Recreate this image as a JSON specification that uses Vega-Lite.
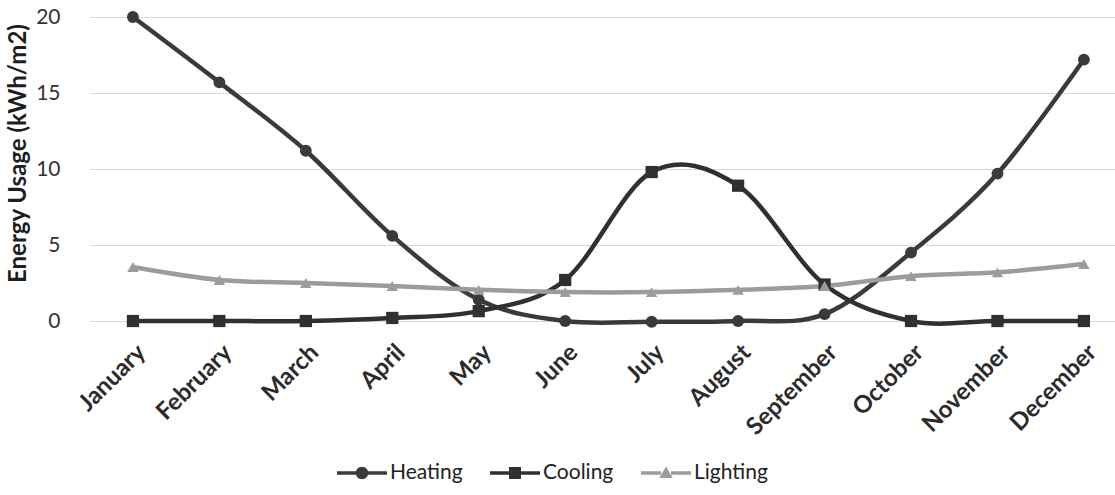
{
  "$schema": "https://vega.github.io/schema/vega-lite/v6.json",
  "width": 1025,
  "height": 304,
  "autosize": "none",
  "padding": {"left": 90, "top": 17, "right": 0, "bottom": 174},
  "background": "white",
  "config": {
    "font": "Lato",
    "view": {"stroke": null}
  },
  "data": {
    "values": [
      {"month": "January", "series": "Heating", "value": 20.0},
      {"month": "February", "series": "Heating", "value": 15.7},
      {"month": "March", "series": "Heating", "value": 11.2},
      {"month": "April", "series": "Heating", "value": 5.6},
      {"month": "May", "series": "Heating", "value": 1.4},
      {"month": "June", "series": "Heating", "value": 0.0},
      {"month": "July", "series": "Heating", "value": -0.05},
      {"month": "August", "series": "Heating", "value": 0.0},
      {"month": "September", "series": "Heating", "value": 0.45},
      {"month": "October", "series": "Heating", "value": 4.5},
      {"month": "November", "series": "Heating", "value": 9.7},
      {"month": "December", "series": "Heating", "value": 17.2},
      {"month": "January", "series": "Cooling", "value": 0.0},
      {"month": "February", "series": "Cooling", "value": 0.0},
      {"month": "March", "series": "Cooling", "value": 0.0},
      {"month": "April", "series": "Cooling", "value": 0.2},
      {"month": "May", "series": "Cooling", "value": 0.65},
      {"month": "June", "series": "Cooling", "value": 2.7},
      {"month": "July", "series": "Cooling", "value": 9.8},
      {"month": "August", "series": "Cooling", "value": 8.9},
      {"month": "September", "series": "Cooling", "value": 2.4},
      {"month": "October", "series": "Cooling", "value": 0.0},
      {"month": "November", "series": "Cooling", "value": 0.0},
      {"month": "December", "series": "Cooling", "value": 0.0},
      {"month": "January", "series": "Lighting", "value": 3.55},
      {"month": "February", "series": "Lighting", "value": 2.7},
      {"month": "March", "series": "Lighting", "value": 2.5},
      {"month": "April", "series": "Lighting", "value": 2.3},
      {"month": "May", "series": "Lighting", "value": 2.05},
      {"month": "June", "series": "Lighting", "value": 1.9},
      {"month": "July", "series": "Lighting", "value": 1.9},
      {"month": "August", "series": "Lighting", "value": 2.05},
      {"month": "September", "series": "Lighting", "value": 2.3},
      {"month": "October", "series": "Lighting", "value": 2.95},
      {"month": "November", "series": "Lighting", "value": 3.2},
      {"month": "December", "series": "Lighting", "value": 3.75}
    ]
  },
  "encoding": {
    "x": {
      "field": "month",
      "type": "nominal",
      "sort": ["January", "February", "March", "April", "May", "June", "July", "August", "September", "October", "November", "December"],
      "scale": {"type": "point", "padding": 0.428, "align": 0.58},
      "axis": {
        "title": null,
        "domain": false,
        "ticks": false,
        "grid": false,
        "labelAngle": -45,
        "labelFontSize": 24,
        "labelFontWeight": "bold",
        "labelColor": "#2b2b2b",
        "labelPadding": 19,
        "labelDx": -7
      }
    },
    "y": {
      "field": "value",
      "type": "quantitative",
      "scale": {"domain": [0, 20], "nice": false},
      "axis": {
        "values": [0, 5, 10, 15, 20],
        "title": "Energy Usage (kWh/m2)",
        "titleFontSize": 24,
        "titleFontWeight": "bold",
        "titleColor": "#1e1e1e",
        "titleX": -60,
        "titleY": 136,
        "domain": false,
        "ticks": false,
        "labelFontSize": 21,
        "labelColor": "#333333",
        "labelPadding": 30,
        "gridColor": "#d8d8d8",
        "gridWidth": 1.2
      }
    }
  },
  "layer": [
    {
      "mark": {"type": "line", "interpolate": "cardinal", "strokeWidth": 4.5},
      "encoding": {
        "color": {
          "field": "series",
          "type": "nominal",
          "sort": ["Heating", "Cooling", "Lighting"],
          "scale": {"domain": ["Heating", "Cooling", "Lighting"], "range": ["#3a3a3a", "#303030", "#9c9c9c"]},
          "legend": {
            "title": null,
            "orient": "none",
            "direction": "horizontal",
            "legendX": 247,
            "legendY": 431,
            "labelFontSize": 21,
            "labelColor": "#222222",
            "labelOffset": 3,
            "columnPadding": 27,
            "symbolSize": 2500,
            "symbolStrokeWidth": 0,
            "encode": {
              "symbols": {
                "update": {
                  "shape": {"signal": "datum.value === 'Heating' ? 'M-1,-0.07L-0.22,-0.07L-0.22,0.07L-1,0.07Z M0.22,-0.07L1,-0.07L1,0.07L0.22,0.07Z M-0.25,0A0.25,0.25 0 1,1 0.25,0A0.25,0.25 0 1,1 -0.25,0Z' : datum.value === 'Cooling' ? 'M-1,-0.07L-0.22,-0.07L-0.22,0.07L-1,0.07Z M0.22,-0.07L1,-0.07L1,0.07L0.22,0.07Z M-0.24,-0.24L0.24,-0.24L0.24,0.24L-0.24,0.24Z' : 'M-1,-0.07L-0.2,-0.07L-0.2,0.07L-1,0.07Z M0.2,-0.07L1,-0.07L1,0.07L0.2,0.07Z M0,-0.26L0.27,0.2L-0.27,0.2Z'"},
                  "fill": {"scale": "color", "field": "value"},
                  "strokeWidth": {"value": 0},
                  "opacity": {"value": 1}
                }
              }
            }
          }
        }
      }
    },
    {
      "transform": [{"filter": "datum.series === 'Heating'"}],
      "mark": {"type": "point", "shape": "circle", "filled": true, "size": 140, "opacity": 1, "color": "#3a3a3a"}
    },
    {
      "transform": [{"filter": "datum.series === 'Cooling'"}],
      "mark": {"type": "point", "shape": "square", "filled": true, "size": 150, "opacity": 1, "color": "#303030"}
    },
    {
      "transform": [{"filter": "datum.series === 'Lighting'"}],
      "mark": {"type": "point", "shape": "triangle-up", "filled": true, "size": 130, "opacity": 1, "color": "#9c9c9c"}
    }
  ]
}
